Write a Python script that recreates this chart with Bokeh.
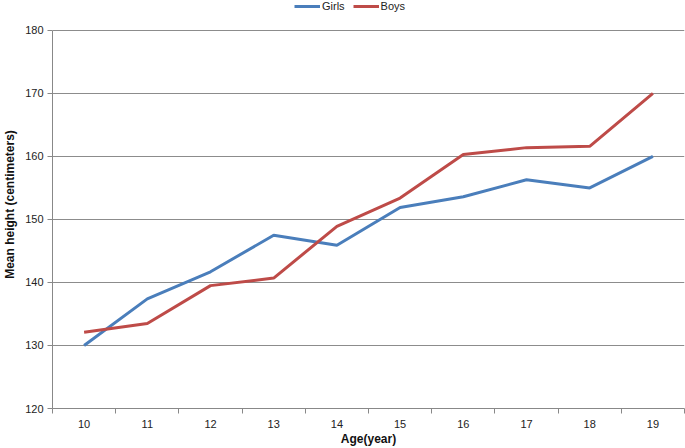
from bokeh.plotting import figure
from bokeh.models import Legend, LegendItem, FixedTicker, Range1d
from bokeh.embed import file_html
from bokeh.resources import INLINE

ages = [10, 11, 12, 13, 14, 15, 16, 17, 18, 19]
girls = [130.0, 137.4, 141.7, 147.5, 145.9, 151.9, 153.6, 156.3, 155.0, 160.0]
boys = [132.1, 133.5, 139.5, 140.7, 148.9, 153.4, 160.3, 161.4, 161.6, 170.0]
y_ticks = [120, 130, 140, 150, 160, 170, 180]

FONT = "Liberation Sans"
BLUE = "#4a7ebb"
RED = "#be4b48"

W, H = 685, 448
BOTTOM = 40
p = figure(width=W, height=H, output_backend="svg", toolbar_location=None,
           x_range=Range1d(9.5, 19.5), y_range=Range1d(120, 184.75),
           min_border_left=51, min_border_right=1, min_border_top=0, min_border_bottom=BOTTOM)
p.outline_line_color = None
p.background_fill_color = "white"

rg = p.line(ages, girls, line_color=BLUE, line_width=3)
rb = p.line(ages, boys, line_color=RED, line_width=3)

# x axis
xa = p.xaxis[0]
xa.ticker = FixedTicker(ticks=ages, minor_ticks=[a - 0.5 for a in ages] + [ages[-1] + 0.5])
xa.major_tick_out = 0
xa.major_tick_in = 0
xa.minor_tick_out = 5
xa.minor_tick_in = 0
xa.minor_tick_line_color = "#888888"
xa.axis_line_color = "#888888"
xa.major_label_text_font = FONT
xa.major_label_text_font_size = "11px"
xa.major_label_text_color = "#222222"
xa.major_label_standoff = 6
xa.axis_label = "Age(year)"
xa.axis_label_text_font = FONT
xa.axis_label_text_font_style = "bold"
xa.axis_label_text_font_size = "12px"
xa.axis_label_text_color = "#111111"
xa.axis_label_standoff = 1

# y axis
ya = p.yaxis[0]
ya.ticker = FixedTicker(ticks=y_ticks)
ya.bounds = (120, 180)
ya.major_tick_out = 5
ya.major_tick_in = 0
ya.minor_tick_out = 0
ya.minor_tick_in = 0
ya.major_tick_line_color = "#888888"
ya.axis_line_color = "#888888"
ya.major_label_text_font = FONT
ya.major_label_text_font_size = "11px"
ya.major_label_text_color = "#222222"
ya.major_label_standoff = 4
ya.axis_label = "Mean height (centimeters)"
ya.axis_label_text_font = FONT
ya.axis_label_text_font_style = "bold"
ya.axis_label_text_font_size = "12px"
ya.axis_label_text_color = "#111111"
ya.axis_label_standoff = 5

p.xgrid.grid_line_color = None
p.ygrid.ticker = FixedTicker(ticks=y_ticks)
p.ygrid.grid_line_color = "#8c8c8c"
p.ygrid.grid_line_width = 1.2

frame_h = H - BOTTOM
legend = Legend(items=[LegendItem(label="Girls", renderers=[rg]),
                       LegendItem(label="Boys", renderers=[rb])],
                orientation="horizontal", location=(242, frame_h - 12))
legend.label_text_font = FONT
legend.label_text_font_size = "11px"
legend.label_text_color = "#222222"
legend.glyph_width = 26
legend.glyph_height = 10
legend.label_height = 10
legend.label_standoff = 2
legend.spacing = 8
legend.padding = 0
legend.margin = 0
legend.border_line_color = None
legend.background_fill_alpha = 0
p.add_layout(legend, "center")

open("out.html", "w").write(file_html(p, INLINE))
